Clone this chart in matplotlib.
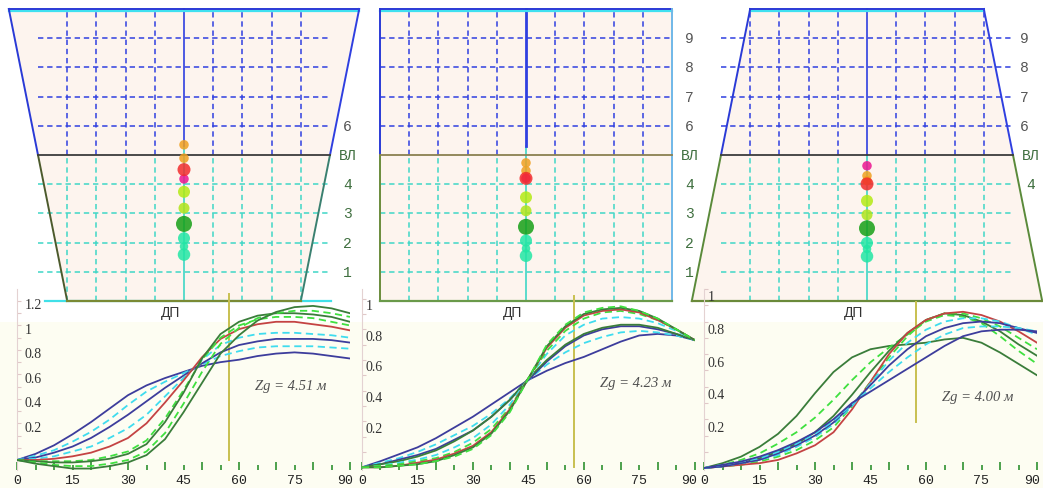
import matplotlib.pyplot as plt
from matplotlib.patches import Polygon, Rectangle

W, H = 1043, 489

# ------------------------------------------------------------
# DATA
# ------------------------------------------------------------
# hull sections: half-breadth (m) at keel, waterline and top
HULL_Z = [0, 5, 10]
HALF_BREADTH = [[4, 5, 6], [5, 5, 5], [6, 5, 4]]
GRID_Z = [1, 2, 3, 4, 6, 7, 8, 9]
GRID_Y = [-4, -3, -2, -1, 1, 2, 3, 4]
WL_Z = 5

LEVEL_LABELS = [
    ["6", "ВЛ", "4", "3", "2", "1"],
    ["9", "8", "7", "6", "ВЛ", "4", "3", "2", "1"],
    ["9", "8", "7", "6", "ВЛ", "4"],
]
LEVEL_Z = [
    [6, 5, 4, 3, 2, 1],
    [9, 8, 7, 6, 5, 4, 3, 2, 1],
    [9, 8, 7, 6, 5, 4],
]

# centre-of-gravity markers on the centre line (height, m)
CG_Z = [
    [5.35, 4.89, 4.18, 4.50, 3.74, 3.18, 2.64, 2.15, 1.87, 1.59],
    [4.73, 4.46, 4.20, 4.20, 3.55, 3.09, 2.54, 2.07, 1.80, 1.55],
    [4.29, 4.12, 4.63, 4.01, 3.43, 2.95, 2.49, 1.99, 1.78, 1.53],
]
CL_BLUE_FROM = [5.3, 5.3, 5.0]

# stability curves, heel angle (deg)
ANGLES = [0, 5, 10, 15, 20, 25, 30, 35, 40, 45, 50, 55, 60, 65, 70, 75, 80, 85, 90]

CHART1 = [
    [0, 0.05, 0.12, 0.21, 0.31, 0.42, 0.53, 0.61, 0.67, 0.72, 0.77, 0.80, 0.82, 0.85, 0.87, 0.88, 0.87, 0.85, 0.83],
    [0, 0.035, 0.08, 0.15, 0.23, 0.33, 0.45, 0.56, 0.64, 0.71, 0.78, 0.85, 0.89, 0.92, 0.93, 0.93, 0.93, 0.92, 0.91],
    [0, 0.02, 0.06, 0.11, 0.18, 0.27, 0.37, 0.48, 0.59, 0.69, 0.79, 0.88, 0.94, 0.97, 0.99, 0.99, 0.99, 0.98, 0.96],
    [0, 0.01, 0.03, 0.07, 0.11, 0.18, 0.26, 0.37, 0.52, 0.67, 0.82, 0.94, 1.00, 1.03, 1.04, 1.04, 1.03, 1.02, 1.00],
    [0, 0.0, 0.01, 0.03, 0.06, 0.11, 0.18, 0.30, 0.47, 0.65, 0.84, 0.99, 1.07, 1.11, 1.13, 1.13, 1.11, 1.09, 1.06],
    [0, -0.01, -0.01, -0.01, 0.0, 0.03, 0.07, 0.16, 0.34, 0.57, 0.82, 1.00, 1.10, 1.15, 1.17, 1.17, 1.16, 1.13, 1.10],
    [0, -0.01, -0.02, -0.02, -0.01, 0.01, 0.05, 0.13, 0.31, 0.55, 0.83, 1.03, 1.13, 1.18, 1.20, 1.20, 1.19, 1.17, 1.13],
    [0, -0.02, -0.04, -0.05, -0.05, -0.03, 0.0, 0.07, 0.22, 0.46, 0.72, 0.95, 1.08, 1.16, 1.20, 1.22, 1.22, 1.20, 1.17],
    [0, -0.03, -0.05, -0.07, -0.07, -0.05, -0.02, 0.04, 0.17, 0.39, 0.63, 0.87, 1.02, 1.14, 1.21, 1.25, 1.26, 1.24, 1.20],
]
CHART2 = [
    [0, 0.04, 0.085, 0.13, 0.19, 0.26, 0.33, 0.41, 0.49, 0.57, 0.63, 0.68, 0.72, 0.77, 0.82, 0.86, 0.87, 0.86, 0.83],
    [0, 0.03, 0.06, 0.10, 0.15, 0.21, 0.27, 0.35, 0.45, 0.57, 0.67, 0.75, 0.81, 0.85, 0.88, 0.89, 0.88, 0.86, 0.83],
    [0, 0.02, 0.05, 0.08, 0.12, 0.18, 0.24, 0.33, 0.44, 0.57, 0.69, 0.79, 0.86, 0.90, 0.92, 0.92, 0.90, 0.87, 0.83],
    [0, 0.02, 0.04, 0.07, 0.11, 0.17, 0.24, 0.33, 0.44, 0.58, 0.70, 0.80, 0.87, 0.91, 0.93, 0.93, 0.91, 0.87, 0.83],
    [0, 0.01, 0.03, 0.05, 0.08, 0.13, 0.19, 0.28, 0.41, 0.58, 0.74, 0.86, 0.93, 0.97, 0.98, 0.97, 0.94, 0.89, 0.83],
    [0, 0.01, 0.02, 0.04, 0.06, 0.10, 0.16, 0.25, 0.39, 0.58, 0.76, 0.89, 0.97, 1.01, 1.02, 1.00, 0.96, 0.90, 0.83],
    [0, 0.0, 0.01, 0.03, 0.05, 0.09, 0.14, 0.23, 0.38, 0.58, 0.78, 0.91, 0.99, 1.02, 1.03, 1.01, 0.96, 0.90, 0.83],
    [0, 0.0, 0.01, 0.02, 0.04, 0.08, 0.13, 0.22, 0.37, 0.58, 0.79, 0.92, 1.00, 1.03, 1.04, 1.02, 0.97, 0.90, 0.83],
    [0, 0.0, 0.01, 0.02, 0.04, 0.07, 0.12, 0.21, 0.36, 0.58, 0.80, 0.93, 1.01, 1.04, 1.05, 1.02, 0.97, 0.90, 0.83],
]
CHART3 = [
    [0, 0.03, 0.07, 0.13, 0.21, 0.32, 0.46, 0.59, 0.68, 0.73, 0.75, 0.76, 0.77, 0.79, 0.80, 0.77, 0.71, 0.64, 0.57],
    [0, 0.02, 0.05, 0.09, 0.15, 0.22, 0.31, 0.42, 0.54, 0.65, 0.74, 0.82, 0.90, 0.94, 0.93, 0.89, 0.81, 0.72, 0.64],
    [0, 0.01, 0.03, 0.06, 0.10, 0.15, 0.22, 0.32, 0.45, 0.59, 0.72, 0.83, 0.91, 0.95, 0.94, 0.90, 0.84, 0.76, 0.69],
    [0, 0.01, 0.02, 0.04, 0.07, 0.11, 0.17, 0.25, 0.38, 0.53, 0.68, 0.81, 0.91, 0.95, 0.95, 0.92, 0.87, 0.80, 0.73],
    [0, 0.01, 0.02, 0.03, 0.05, 0.09, 0.14, 0.22, 0.36, 0.53, 0.70, 0.83, 0.91, 0.95, 0.96, 0.94, 0.90, 0.84, 0.77],
    [0, 0.01, 0.03, 0.05, 0.08, 0.13, 0.19, 0.27, 0.38, 0.52, 0.66, 0.77, 0.85, 0.90, 0.92, 0.92, 0.90, 0.86, 0.82],
    [0, 0.01, 0.03, 0.05, 0.09, 0.14, 0.20, 0.28, 0.39, 0.51, 0.63, 0.73, 0.81, 0.86, 0.89, 0.90, 0.89, 0.86, 0.83],
    [0, 0.02, 0.04, 0.06, 0.10, 0.15, 0.21, 0.29, 0.39, 0.49, 0.59, 0.68, 0.76, 0.82, 0.86, 0.87, 0.87, 0.86, 0.84],
    [0, 0.02, 0.04, 0.07, 0.11, 0.16, 0.22, 0.30, 0.40, 0.47, 0.54, 0.61, 0.68, 0.75, 0.81, 0.84, 0.85, 0.85, 0.84],
]
CHART_YTICKS = [
    [0.2, 0.4, 0.6, 0.8, 1.0, 1.2],
    [0.2, 0.4, 0.6, 0.8, 1.0],
    [0.2, 0.4, 0.6, 0.8, 1.0],
]
XTICKS = [0, 15, 30, 45, 60, 75, 90]
ZG_TEXT = ["Zg = 4.51 м", "Zg = 4.23 м", "Zg = 4.00 м"]
ZG_ANGLE = 57.3
ZG_LINE = [(0, 1.36), (0, 1.12), (0.28, 1.02)]
ZG_TEXT_POS = [(64.3, 0.61), (64.4, 0.556), (64.3, 0.44)]

# ------------------------------------------------------------
# STYLES
# ------------------------------------------------------------
STYLE = {
    "navy": ("#3d3d9c", "-"),
    "cyan": ("#3fdcee", (0, (4, 2.5))),
    "red": ("#c44343", "-"),
    "green": ("#3fe03f", (0, (4, 2.5))),
    "dark": ("#3a7d3a", "-"),
}
CHART_STYLES = [
    ["navy", "cyan", "navy", "cyan", "red", "green", "dark", "green", "dark"],
    ["navy", "cyan", "navy", "dark", "cyan", "green", "red", "dark", "green"],
    ["dark", "green", "dark", "green", "red", "cyan", "navy", "cyan", "navy"],
]
CG_COLORS = ["#f0a020", "#f0a020", "#ec1490", "#f22c2c", "#b4ea14",
             "#b0e41a", "#17a017", "#22e6a4", "#22e6a4", "#22e6a4"]
CG_SIZE_PX = [9.5, 9.5, 9.5, 13, 12, 11, 16, 12, 8.5, 12.5]

BLUE = "#2f3fe0"
TEAL = "#3fd6c6"
PEACH = "#fdf4ee"
CREAM = "#fdfdf2"

SCALE = 29.2                     # px per metre in the sections
PANEL_CX = [184, 526, 867]
PANEL_BOX = [(0, 0, 375, 325), (360, 0, 705, 325), (685, 0, 1043, 325)]
BASE_PX = 302
LABEL_X_UP = [5.6, 5.6, 5.38]
LABEL_X_LOW = [5.6, 5.6, 5.6]

CHART_X0 = [17, 362, 704]
CHART_SX = [3.7, 3.697, 3.7]
CHART_Y0 = [461, 468.3, 469]
CHART_SY = [122.3, 153.3, 168]


def add_px_axes(fig, box, x0, sx, y0, sy):
    """Axes placed by pixel box; data x = (px - x0)/sx, data y = (y0 - py)/sy."""
    l, t, r, b = box
    ax = fig.add_axes([l / W, 1 - b / H, (r - l) / W, (b - t) / H])
    ax.set_xlim((l - x0) / sx, (r - x0) / sx)
    ax.set_ylim((y0 - b) / sy, (y0 - t) / sy)
    ax.patch.set_visible(False)
    return ax


# ------------------------------------------------------------
# HULL SECTIONS
# ------------------------------------------------------------
def draw_section(fig, k):
    ax = add_px_axes(fig, PANEL_BOX[k], PANEL_CX[k], SCALE, BASE_PX, SCALE)
    ax.set_axis_off()
    b0, b5, b10 = HALF_BREADTH[k]
    z0, z5, z10 = HULL_Z

    ax.add_patch(Polygon([(-b0, z0), (b0, z0), (b10, z10), (-b10, z10)],
                         closed=True, facecolor=PEACH, edgecolor="none", zorder=0))

    dash = (0, (3.5, 2.5))
    for z in GRID_Z:
        ax.plot([-5, 5], [z, z], color=BLUE if z > WL_Z else TEAL, lw=1.1, ls=dash, zorder=1)
    for y in GRID_Y:
        ax.plot([y, y], [WL_Z, z10], color=BLUE, lw=1.1, ls=dash, zorder=1)
        ax.plot([y, y], [z0, WL_Z], color=TEAL, lw=1.1, ls=dash, zorder=1)

    # centre line
    ax.plot([0, 0], [z0, CL_BLUE_FROM[k]], color=TEAL, lw=1.2, zorder=2)
    ax.plot([0, 0], [CL_BLUE_FROM[k], z10], color=BLUE, lw=2.0 if k == 1 else 1.2, zorder=2)

    # outline
    low_col = ["#4c5a2c", "#6a8c3c", "#5a8a3a"][k]
    right_low = ["#3a8070", "#70b8e8", "#5a8a3a"][k]
    right_up = [BLUE, "#70b8e8", BLUE][k]
    ax.plot([-b10, b10], [z10 - 0.07, z10 - 0.07], color="#40e0f0", lw=1.6, zorder=3)
    ax.plot([-b10, b10], [z10, z10], color="#2a3ad6", lw=1.4, zorder=3)
    ax.plot([-b5, -b10], [z5, z10], color="#2a3ad6", lw=1.4, zorder=3)
    ax.plot([b5, b10], [z5, z10], color=right_up, lw=1.4, zorder=3)
    ax.plot([-b0, -b5], [z0, z5], color=low_col, lw=1.4, zorder=3)
    ax.plot([b0, b5], [z0, z5], color=right_low, lw=1.4, zorder=3)
    if k == 0:
        ax.plot([-4.75, 5.05], [z0, z0], color="#40e0e8", lw=1.6, zorder=3)
    ax.plot([-b0, b0], [z0, z0], color=["#7a8a34", "#6a9a4a", "#6a8a3a"][k], lw=1.6, zorder=3)
    ax.plot([-b5, b5], [z5, z5], color=["#3c3c3c", "#8a8050", "#3c3c3c"][k], lw=1.3, zorder=3)

    # level labels
    for lab, z in zip(LEVEL_LABELS[k], LEVEL_Z[k]):
        col = "#555555" if z > WL_Z else "#3f6f3f"
        lx = LABEL_X_UP[k] if z > WL_Z else LABEL_X_LOW[k]
        ax.text(lx, z, lab, ha="center", va="center", fontsize=10.5,
                family="Liberation Mono", color=col)
    ax.text(-0.45, -0.36, "ДП", ha="center", va="center", fontsize=10,
            family="Liberation Sans", color="#333333")

    sizes = [(d * 0.72) ** 2 for d in CG_SIZE_PX]
    ax.scatter([0] * len(CG_Z[k]), CG_Z[k], s=sizes, c=CG_COLORS,
               alpha=0.85, edgecolors="none", zorder=5)


# ------------------------------------------------------------
# STABILITY CHARTS
# ------------------------------------------------------------
def draw_chart(fig, k, curves):
    x0, sx, y0, sy = CHART_X0[k], CHART_SX[k], CHART_Y0[k], CHART_SY[k]
    box = (x0, 290, x0 + 90 * sx, 471)
    ax = add_px_axes(fig, box, x0, sx, y0, sy)

    for vals, key in zip(curves, CHART_STYLES[k]):
        col, ls = STYLE[key]
        ax.plot(ANGLES, vals, color=col, ls=ls, lw=1.3, zorder=3)

    lo, hi = ZG_LINE[k]
    ax.plot([ZG_ANGLE, ZG_ANGLE], [lo, hi], color="#c8c050", lw=1.4, zorder=2)
    tx, ty = ZG_TEXT_POS[k]
    ax.text(tx, ty, ZG_TEXT[k], fontsize=10.5, style="italic",
            family="Liberation Serif", color="#505050", va="center", ha="left")

    for side in ["top", "right", "bottom"]:
        ax.spines[side].set_visible(False)
    ax.spines["left"].set_color("#e4d2d2")

    # x ticks: long at tens, short at fives; labels every 15 deg
    ax.set_xticks(range(0, 91, 10))
    ax.set_xticks(range(5, 91, 10), minor=True)
    ax.tick_params(axis="x", which="major", direction="in", length=6, width=1.3,
                   color="#3f9a3f", labelbottom=False)
    ax.tick_params(axis="x", which="minor", direction="in", length=3.5, width=1.3,
                   color="#3f9a3f")
    for v in XTICKS:
        last = v == XTICKS[-1]
        ax.annotate(str(v), xy=(v, 0), xycoords=ax.get_xaxis_transform(),
                    xytext=(2 if last else 0, -3), textcoords="offset points",
                    ha="right" if last else "center", va="top", fontsize=9.5,
                    family="Liberation Mono", color="#222222")

    ax.set_yticks([v / 10 for v in range(0, int(CHART_YTICKS[k][-1] * 10) + 2)])
    ax.tick_params(axis="y", direction="in", length=3, color="#e0c8c8", labelleft=False)
    dx = 5.5 if k == 0 else 2.5
    for v in CHART_YTICKS[k]:
        ax.annotate(f"{v:g}", xy=(0, v), xycoords=ax.get_yaxis_transform(),
                    xytext=(dx, 6), textcoords="offset points", ha="left", va="center",
                    fontsize=10, family="Liberation Serif", color="#333333")


def main():
    fig = plt.figure(figsize=(W / 100, H / 100), dpi=100)
    fig.patches.append(Rectangle((0, 0), 1, 1 - 323 / H, transform=fig.transFigure,
                                 facecolor=CREAM, edgecolor="none", zorder=-10))
    for k in range(3):
        draw_section(fig, k)
    for k, curves in enumerate([CHART1, CHART2, CHART3]):
        draw_chart(fig, k, curves)
    fig.savefig("out.png", dpi=100)


if __name__ == "__main__":
    main()
